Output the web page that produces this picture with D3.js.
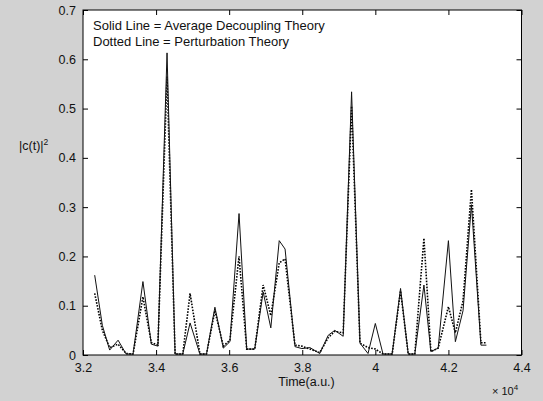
<!DOCTYPE html>
<html>
<head>
<meta charset="utf-8">
<script src="https://cdn.jsdelivr.net/npm/d3@7"></script>
<style>
  body { margin: 0; background: #d2d2d2; }
  svg { display: block; font-family: "Liberation Sans", Arial, sans-serif; }
</style>
</head>
<body>
<svg id="chart" width="543" height="401"></svg>
<script>
///////  data ///////

var times = [32320, 32530, 32730, 32960, 33180, 33370, 33640, 33870, 34050, 34300,
             34520, 34730, 34930, 35200, 35380, 35610, 35840, 36020, 36270, 36480,
             36700, 36930, 37140, 37370, 37530, 37800, 37990, 38210, 38480, 38710,
             38890, 39120, 39350, 39580, 39800, 40000, 40210, 40460, 40690, 40900,
             41080, 41330, 41520, 41720, 42000, 42190, 42400, 42630, 42890, 43040];

var solid = [0.162, 0.060, 0.010, 0.030, 0.002, 0.002, 0.149, 0.022, 0.018, 0.613,
             0.002, 0.002, 0.065, 0.002, 0.002, 0.097, 0.014, 0.027, 0.287, 0.012,
             0.012, 0.128, 0.055, 0.232, 0.215, 0.017, 0.013, 0.015, 0.003, 0.040,
             0.050, 0.038, 0.534, 0.024, 0.003, 0.064, 0.002, 0.002, 0.135, 0.002,
             0.002, 0.142, 0.007, 0.014, 0.232, 0.027, 0.090, 0.305, 0.020, 0.020];

var dotted = [0.125, 0.050, 0.015, 0.022, 0.003, 0.002, 0.118, 0.025, 0.020, 0.565,
              0.002, 0.002, 0.125, 0.002, 0.002, 0.090, 0.018, 0.030, 0.200, 0.012,
              0.012, 0.142, 0.080, 0.187, 0.195, 0.020, 0.018, 0.012, 0.005, 0.035,
              0.048, 0.045, 0.505, 0.024, 0.015, 0.012, 0.002, 0.002, 0.130, 0.002,
              0.002, 0.237, 0.007, 0.014, 0.098, 0.045, 0.110, 0.336, 0.025, 0.025];

var xTicks = [32000, 34000, 36000, 38000, 40000, 42000, 44000];
var yTicks = [0, 0.1, 0.2, 0.3, 0.4, 0.5, 0.6, 0.7];

///////  layout ///////

var svg = d3.select("#chart"),
margin = {top: 10, right: 21.5, bottom: 46, left: 83},
width = +svg.attr("width") - margin.left - margin.right,
height = +svg.attr("height") - margin.top - margin.bottom;

var x = d3.scaleLinear().domain([32000, 44000]).range([0, width]),
y = d3.scaleLinear().domain([0, 0.7]).range([height, 0]);

var g = svg.append("g")
.attr("transform", "translate(" + margin.left + "," + margin.top + ")");

g.append("rect")
.attr("width", width)
.attr("height", height)
.attr("fill", "white");

function fmtX(d) { return String(+(d / 1e4).toFixed(1)); }

var xAxis = d3.axisBottom(x).tickValues(xTicks).tickSizeInner(-5).tickSizeOuter(0).tickPadding(8).tickFormat(fmtX),
xTop = d3.axisTop(x).tickValues(xTicks).tickSizeInner(-5).tickSizeOuter(0).tickFormat(""),
yAxis = d3.axisLeft(y).tickValues(yTicks).tickSizeInner(-5).tickSizeOuter(0).tickPadding(7).tickFormat(d3.format("~g")),
yRight = d3.axisRight(y).tickValues(yTicks).tickSizeInner(-5).tickSizeOuter(0).tickFormat("");

g.append("g").attr("class", "axis").attr("transform", "translate(0," + height + ")").call(xAxis);
g.append("g").attr("class", "axis").call(xTop);
g.append("g").attr("class", "axis").call(yAxis);
g.append("g").attr("class", "axis").attr("transform", "translate(" + width + ",0)").call(yRight);

g.selectAll(".axis .domain").remove();
g.selectAll(".axis line").attr("stroke", "#000");
g.selectAll(".axis text").attr("fill", "#111").attr("font-size", "12.5px")
.attr("font-family", "'Liberation Sans', Arial, sans-serif");

///////  lines ///////

var idx = d3.range(times.length);

var lineSolid = d3.line()
.x(function(i) { return x(times[i]); })
.y(function(i) { return y(solid[i]); });

var lineDotted = d3.line()
.x(function(i) { return x(times[i]); })
.y(function(i) { return y(dotted[i]); });

g.append("path")
.datum(idx)
.attr("fill", "none")
.attr("stroke", "#000")
.attr("stroke-width", 1.6)
.attr("stroke-dasharray", "1.6,1.4")
.attr("d", lineDotted);

g.append("path")
.datum(idx)
.attr("fill", "none")
.attr("stroke", "#111")
.attr("stroke-width", 1)
.attr("d", lineSolid);

// frame
g.append("rect")
.attr("width", width)
.attr("height", height)
.attr("fill", "none")
.attr("stroke", "#000")
.attr("stroke-width", 1);

///////  texts ///////

g.append("text").attr("x", 10).attr("y", 20).attr("font-size", "13px").attr("fill", "#111")
.text("Solid Line = Average Decoupling Theory");
g.append("text").attr("x", 10).attr("y", 35.5).attr("font-size", "13px").attr("fill", "#111")
.text("Dotted Line = Perturbation Theory");

svg.append("text")
.attr("x", 306.5).attr("y", 386)
.attr("text-anchor", "middle")
.attr("font-size", "12.5px").attr("fill", "#111")
.text("Time(a.u.)");

var yl = svg.append("text")
.attr("x", 19).attr("y", 150)
.attr("font-size", "12.5px").attr("fill", "#111");
yl.append("tspan").text("|c(t)|");
yl.append("tspan").attr("dy", -5).attr("font-size", "8.5px").text("2");

var ex = svg.append("text")
.attr("x", 492).attr("y", 395)
.attr("font-size", "11px").attr("fill", "#111");
ex.append("tspan").text("\u00d7 10");
ex.append("tspan").attr("dy", -5).attr("font-size", "8px").text("4");
</script>
</body>
</html>
